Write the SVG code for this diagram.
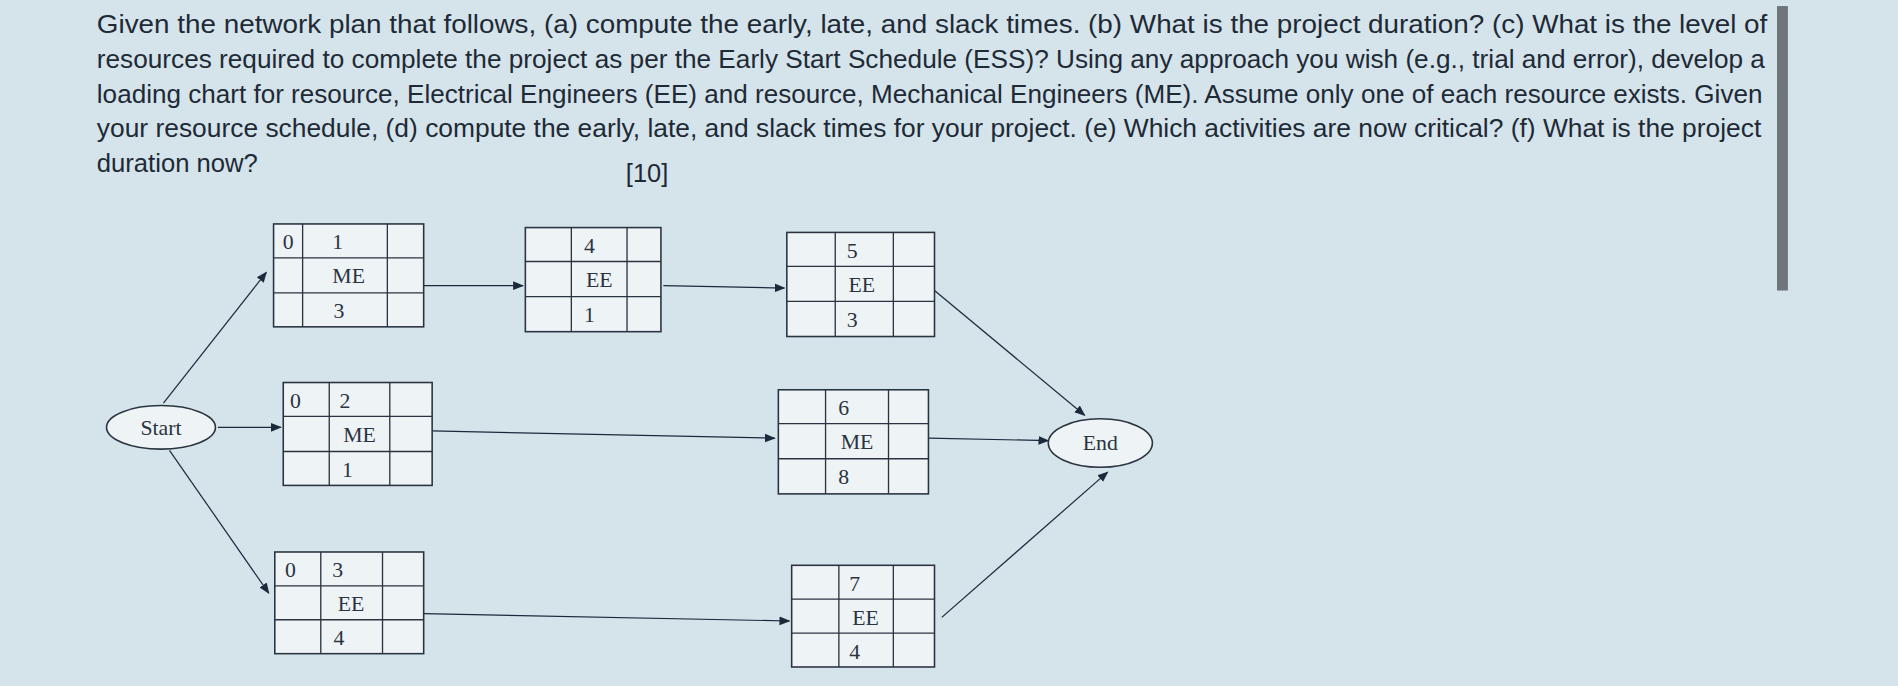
<svg xmlns="http://www.w3.org/2000/svg" width="1898" height="686" viewBox="0 0 1898 686">
<defs>
<marker id="ah" viewBox="0 0 10 10" refX="9" refY="5" markerWidth="9" markerHeight="9" orient="auto"><path d="M0,1 L10,5 L0,9 z" fill="#1a2a3a"/></marker>
<style>
.q{font-family:"Liberation Sans",Arial,sans-serif;font-size:21px;fill:#1e2a36}
.n{font-family:"Liberation Serif","Times New Roman",serif;font-size:18px;fill:#2a3440;text-anchor:middle}
.b{fill:#eef3f6;stroke:#2a3440;stroke-width:1.3}
.l{stroke:#2a3440;stroke-width:1.1}
.c{stroke:#1a2a3a;stroke-width:1;fill:none;marker-end:url(#ah)}
</style>
</defs>
<rect width="1898" height="686" fill="#d5e3eb"/>
<g transform="scale(1.2105)">
<g id="question">
<text class="q" x="80" y="27" textLength="1380" lengthAdjust="spacingAndGlyphs">Given the network plan that follows, (a) compute the early, late, and slack times. (b) What is the project duration? (c) What is the level of</text>
<text class="q" x="80" y="56" textLength="1378" lengthAdjust="spacingAndGlyphs">resources required to complete the project as per the Early Start Schedule (ESS)? Using any approach you wish (e.g., trial and error), develop a</text>
<text class="q" x="80" y="85" textLength="1376" lengthAdjust="spacingAndGlyphs">loading chart for resource, Electrical Engineers (EE) and resource, Mechanical Engineers (ME). Assume only one of each resource exists. Given</text>
<text class="q" x="80" y="113" textLength="1375" lengthAdjust="spacingAndGlyphs">your resource schedule, (d) compute the early, late, and slack times for your project. (e) Which activities are now critical? (f) What is the project</text>
<text class="q" x="80" y="142" textLength="133" lengthAdjust="spacingAndGlyphs">duration now?</text>
<text class="q" x="517" y="150">[10]</text>
</g>
<rect x="1468" y="5" width="9" height="235" fill="#6e767c"/>
<g id="connectors">
<line class="c" x1="135" y1="333" x2="220" y2="225"/>
<line class="c" x1="180" y1="353" x2="232" y2="353"/>
<line class="c" x1="140" y1="372" x2="222" y2="490"/>
<line class="c" x1="350" y1="236" x2="432" y2="236"/>
<line class="c" x1="548" y1="236" x2="648" y2="238"/>
<line class="c" x1="772" y1="240" x2="896" y2="343"/>
<line class="c" x1="357" y1="356" x2="640" y2="362"/>
<line class="c" x1="767" y1="362" x2="866" y2="364"/>
<line class="c" x1="350" y1="507" x2="652" y2="513"/>
<line class="c" x1="778" y1="510" x2="915" y2="390"/>
</g>
<g id="start"><ellipse cx="133" cy="353" rx="45" ry="18" class="b"/><text class="n" x="133" y="359">Start</text></g>
<g id="end"><ellipse cx="909" cy="366" rx="43" ry="20" class="b"/><text class="n" x="909" y="372">End</text></g>
<g id="a1"><rect class="b" x="226" y="185" width="124" height="85"/><line class="l" x1="226" y1="213" x2="350" y2="213"/><line class="l" x1="226" y1="242" x2="350" y2="242"/><line class="l" x1="250" y1="185" x2="250" y2="270"/><line class="l" x1="320" y1="185" x2="320" y2="270"/>
<text class="n" x="238" y="206">0</text><text class="n" x="279" y="206">1</text><text class="n" x="288" y="234">ME</text><text class="n" x="280" y="263">3</text></g>
<g id="a4"><rect class="b" x="434" y="188" width="112" height="86"/><line class="l" x1="434" y1="216" x2="546" y2="216"/><line class="l" x1="434" y1="245" x2="546" y2="245"/><line class="l" x1="472" y1="188" x2="472" y2="274"/><line class="l" x1="518" y1="188" x2="518" y2="274"/>
<text class="n" x="487" y="209">4</text><text class="n" x="495" y="237">EE</text><text class="n" x="487" y="266">1</text></g>
<g id="a5"><rect class="b" x="650" y="192" width="122" height="86"/><line class="l" x1="650" y1="220" x2="772" y2="220"/><line class="l" x1="650" y1="249" x2="772" y2="249"/><line class="l" x1="690" y1="192" x2="690" y2="278"/><line class="l" x1="738" y1="192" x2="738" y2="278"/>
<text class="n" x="704" y="213">5</text><text class="n" x="712" y="241">EE</text><text class="n" x="704" y="270">3</text></g>
<g id="a2"><rect class="b" x="234" y="316" width="123" height="85"/><line class="l" x1="234" y1="344" x2="357" y2="344"/><line class="l" x1="234" y1="373" x2="357" y2="373"/><line class="l" x1="272" y1="316" x2="272" y2="401"/><line class="l" x1="322" y1="316" x2="322" y2="401"/>
<text class="n" x="244" y="337">0</text><text class="n" x="285" y="337">2</text><text class="n" x="297" y="365">ME</text><text class="n" x="287" y="394">1</text></g>
<g id="a6"><rect class="b" x="643" y="322" width="124" height="86"/><line class="l" x1="643" y1="350" x2="767" y2="350"/><line class="l" x1="643" y1="379" x2="767" y2="379"/><line class="l" x1="682" y1="322" x2="682" y2="408"/><line class="l" x1="734" y1="322" x2="734" y2="408"/>
<text class="n" x="697" y="343">6</text><text class="n" x="708" y="371">ME</text><text class="n" x="697" y="400">8</text></g>
<g id="a3"><rect class="b" x="227" y="456" width="123" height="84"/><line class="l" x1="227" y1="484" x2="350" y2="484"/><line class="l" x1="227" y1="512" x2="350" y2="512"/><line class="l" x1="265" y1="456" x2="265" y2="540"/><line class="l" x1="316" y1="456" x2="316" y2="540"/>
<text class="n" x="240" y="477">0</text><text class="n" x="279" y="477">3</text><text class="n" x="290" y="505">EE</text><text class="n" x="280" y="533">4</text></g>
<g id="a7"><rect class="b" x="654" y="467" width="118" height="84"/><line class="l" x1="654" y1="495" x2="772" y2="495"/><line class="l" x1="654" y1="523" x2="772" y2="523"/><line class="l" x1="693" y1="467" x2="693" y2="551"/><line class="l" x1="738" y1="467" x2="738" y2="551"/>
<text class="n" x="706" y="488">7</text><text class="n" x="715" y="516">EE</text><text class="n" x="706" y="544">4</text></g>
</g>
</svg>
